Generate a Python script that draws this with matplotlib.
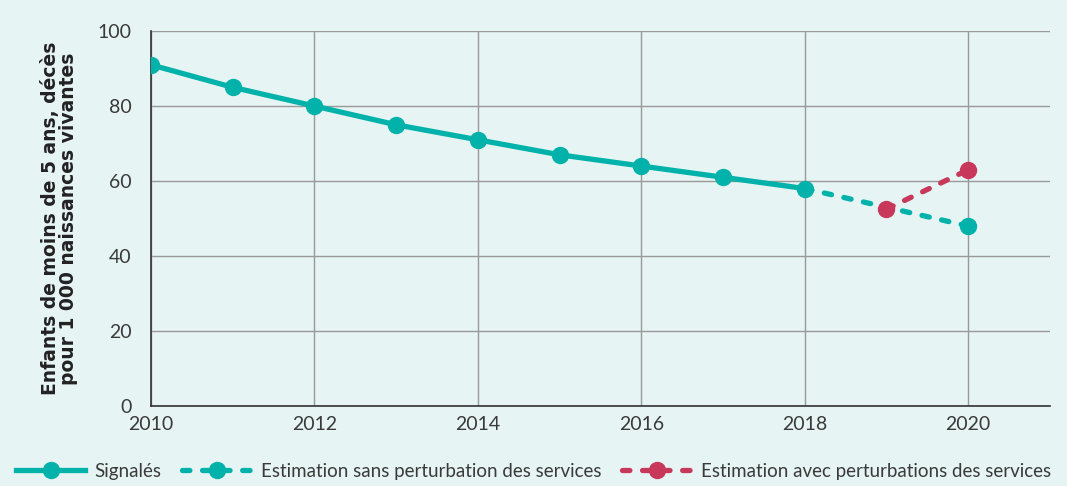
import matplotlib.pyplot as plt
import numpy as np

years_reported = [2010, 2011, 2012, 2013, 2014, 2015, 2016, 2017, 2018]
reported = [91, 85, 80, 75, 71, 67, 64, 61, 58]

years_no_disruption = [2018, 2019, 2020]
no_disruption = [58, 53, 48]

years_disruption = [2019, 2020]
disruption = [52.5, 63]

labels = ["Signalés", "Estimation sans perturbation des services",
          "Estimation avec perturbations des services"]

teal = "#00B2A9"
red = "#C8385A"
bg = "#E6F4F3"

plt.rcParams['font.family'] = ['Lato', 'DejaVu Sans']

fig = plt.figure(figsize=(10.67, 4.86), dpi=100, facecolor=bg)
ax = fig.add_axes([0.1415, 0.1646, 0.8425, 0.7715], facecolor=bg)

dash = (0, (1.4, 2.4))
ax.plot(years_no_disruption, no_disruption, color=teal, linewidth=3.8,
        linestyle=dash, dash_capstyle="round", marker="o", markersize=11.5,
        markevery=[2], label=labels[1], zorder=3)
ax.plot(years_disruption, disruption, color=red, linewidth=3.8,
        linestyle=dash, dash_capstyle="round", marker="o", markersize=11.5,
        label=labels[2], zorder=4)
ax.plot(years_reported, reported, color=teal, linewidth=3.8, marker="o",
        markersize=11.5, label=labels[0], zorder=5)

ax.set_xlim(2010, 2021)
ax.set_ylim(0, 100)
ax.set_xticks(np.arange(2010, 2021, 2))
ax.set_yticks(np.arange(0, 101, 20))
ax.tick_params(length=0, labelsize=14, colors="#3a3a3a")
ax.tick_params(axis="y", pad=14)
ax.tick_params(axis="x", pad=7)
ax.grid(color="#999999", linewidth=1)
ax.set_axisbelow(True)
for s in ["top", "right"]:
    ax.spines[s].set_visible(False)
for s in ["left", "bottom"]:
    ax.spines[s].set_color("#333333")
    ax.spines[s].set_linewidth(1.2)

ax.set_ylabel("Enfants de moins de 5 ans, décès\npour 1 000 naissances vivantes",
              fontsize=13.5, fontweight="bold", color="#222222", labelpad=14,
              linespacing=0.95, family=["DejaVu Sans"])

h, l = ax.get_legend_handles_labels()
order = [2, 0, 1]
fig.legend([h[i] for i in order], [l[i] for i in order], loc="center",
           bbox_to_anchor=(0.5, 0.03), ncol=3, frameon=False, fontsize=13.5,
           handlelength=3.7, columnspacing=1.1, handletextpad=0.5,
           labelcolor="#3a3a3a", borderaxespad=0)

fig.savefig("out.png", dpi=100, facecolor=bg)
